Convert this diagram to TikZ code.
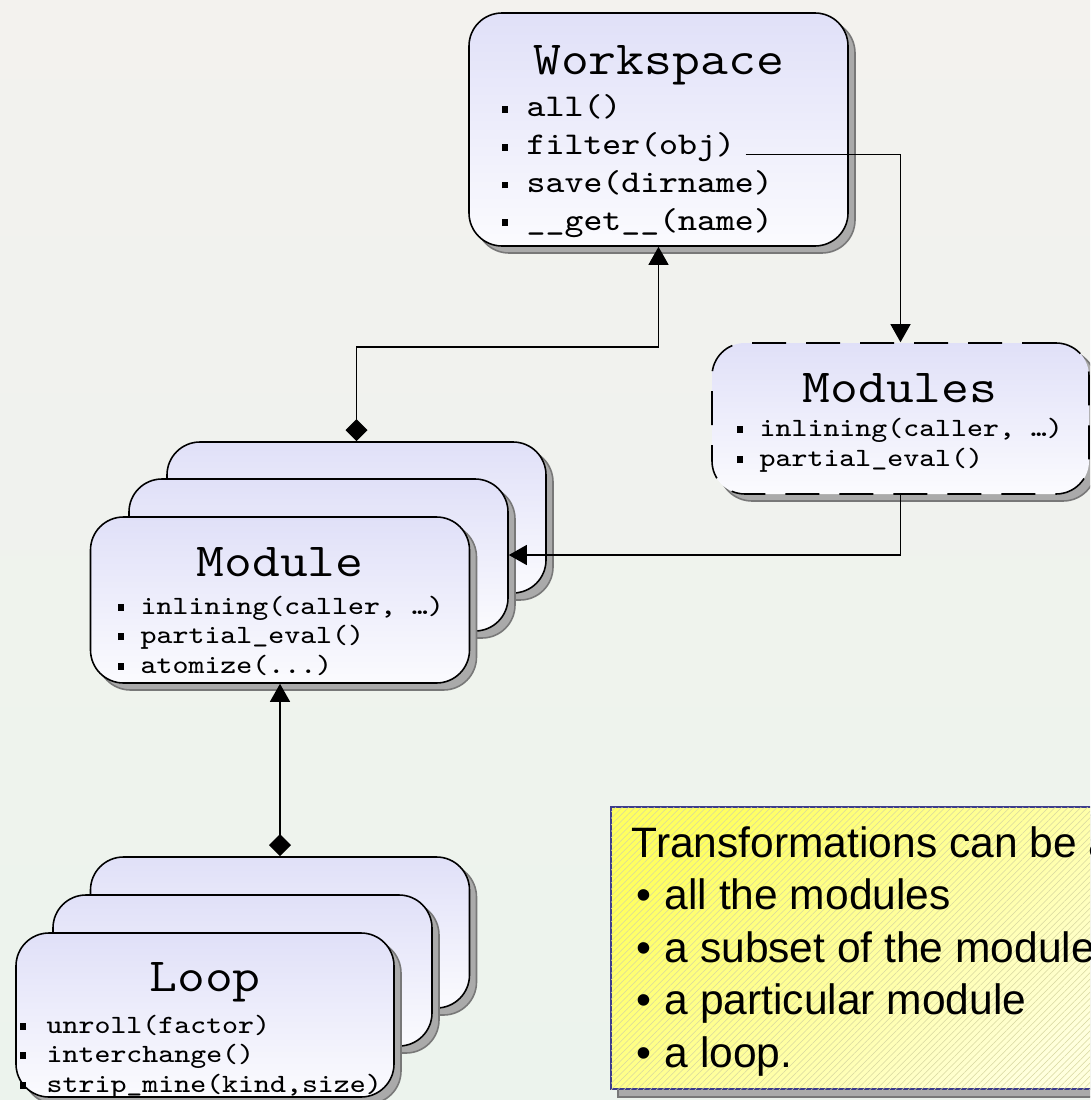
\documentclass[tikz,border=0pt]{standalone}
\usepackage{fontspec}
\setmainfont{Liberation Sans}
\setmonofont{Latin Modern Mono}[FakeStretch=1.14]
\usetikzlibrary{arrows.meta,shadows,patterns.meta}
\definecolor{boxtop}{RGB}{224,224,248}
\definecolor{boxbottom}{RGB}{251,251,254}
\definecolor{shadowfill}{RGB}{170,170,170}
\definecolor{shadowline}{RGB}{120,120,120}
\definecolor{notetop}{RGB}{255,255,95}
\definecolor{notebottom}{RGB}{255,255,222}
\definecolor{noteline}{RGB}{60,60,140}
\definecolor{hatch}{RGB}{215,215,160}
\definecolor{bgtop}{RGB}{243,242,238}
\definecolor{bgbottom}{RGB}{236,243,237}
\tikzstyle{umlbox} = [draw=black, line width=0.45pt, rounded corners=0.33cm, top color=boxtop, bottom color=boxbottom, minimum width=3.79cm, drop shadow={shadow xshift=0.07cm, shadow yshift=-0.07cm, opacity=1, fill=shadowfill, draw=shadowline, solid}]
\tikzstyle{notebox} = [draw=noteline, line width=0.4pt, top color=notetop, bottom color=notebottom, shading angle=40, drop shadow={shadow xshift=0.07cm, shadow yshift=-0.08cm, opacity=1, fill=shadowfill, draw=shadowline}, postaction={pattern={Lines[angle=45,distance=1.3pt,line width=0.15pt]}, pattern color=hatch}]
\tikzstyle{boxtitle} = [font=\ttfamily\fontsize{13.5}{16}\selectfont, anchor=base, inner sep=0pt]
\tikzstyle{boxitem} = [font=\ttfamily\fontsize{7.5}{9}\selectfont, anchor=base west, inner sep=0pt]
\tikzstyle{bigitem} = [boxitem, font=\ttfamily\fontsize{9}{11}\selectfont]
\tikzstyle{notetext} = [font=\fontsize{12.1}{14}\selectfont, anchor=base west, inner sep=0pt]
\tikzstyle{link} = [line width=0.35pt]
\tikzstyle{tri} = [-{Triangle[width=0.2cm,length=0.18cm]}]
\tikzstyle{dia} = [{Diamond[width=0.22cm,length=0.22cm]}-{Triangle[width=0.2cm,length=0.18cm]}]
\newcommand{\sqbul}[1]{\makebox[#1][l]{\rule[0.3ex]{1.9pt}{1.9pt}}}
\newcommand{\tdots}{...}

\begin{document}
\begin{tikzpicture}

	\useasboundingbox (0,0) rectangle (10.9,-11);
	\clip (0,0) rectangle (10.9,-11);
	\shade[top color=bgtop, bottom color=bgbottom] (0,0) rectangle (10.9,-11);

	% workspace
	\node[umlbox, minimum height=2.33cm] (ws) at (6.585,-1.295) {};
	\node[boxtitle] (wstitle) at (6.585,-0.75) {Workspace};
	\foreach \t [count=\i] in {all(), filter(obj), save(dirname), \_\_get\_\_(name)}
		\node[bigitem] (ws\i) at (5.01,{-1.17-0.377*(\i-1)}) {\sqbul{0.25cm}\t};

	% modules
	\node[umlbox, dash pattern=on 0.34cm off 0.2cm, minimum width=3.77cm, minimum height=1.51cm] (mods) at (9.005,-4.185) {};
	\node[boxtitle] (modstitle) at (9.0,-4.02) {Modules};
	\foreach \t [count=\i] in {{inlining(caller, …)}, partial\_eval()}
		\node[boxitem] (mods\i) at (7.36,{-4.36-0.305*(\i-1)}) {\sqbul{0.23cm}\t};

	% module stack
	\node[umlbox, minimum height=1.51cm] (mback) at (3.565,-5.175) {};
	\node[umlbox, minimum height=1.52cm] (mmid) at (3.185,-5.55) {};
	\node[umlbox, minimum height=1.66cm] (mfront) at (2.80,-6.00) {};
	\node[boxtitle] (mtitle) at (2.80,-5.76) {Module};
	\foreach \t [count=\i] in {{inlining(caller, …)}, partial\_eval(), atomize(\tdots)}
		\node[boxitem] (m\i) at (1.17,{-6.14-0.295*(\i-1)}) {\sqbul{0.23cm}\t};

	% loop stack
	\node[umlbox, minimum height=1.51cm] (lback) at (2.80,-9.325) {};
	\node[umlbox, minimum height=1.51cm] (lmid) at (2.425,-9.705) {};
	\node[umlbox, minimum width=3.78cm, minimum height=1.64cm] (lfront) at (2.05,-10.15) {};
	\node[boxtitle] (ltitle) at (2.05,-9.91) {Loop};
	\foreach \t [count=\i] in {unroll(factor), interchange(), {strip\_mine(kind,size)}}
		\node[boxitem] (l\i) at (0.19,{-10.33-0.295*(\i-1)}) {\sqbul{0.27cm}\t};

	% note
	\node[notebox, minimum width=5.3cm, minimum height=2.82cm] (note) at (8.76,-9.48) {};
	\node[notetext] (notehead) at (6.31,-8.57) {Transformations can be a};
	\foreach \t [count=\i] in {all the modules, a subset of the module, a particular module, a loop.}
		\node[notetext] (note\i) at (6.36,{-9.095-0.525*(\i-1)}) {\makebox[0.28cm][l]{•}\t};

	% connectors
	\coordinate (bend) at (6.585,-3.47);
	\draw[link, tri] ([xshift=0.1cm]ws2.base east) -| (mods.north);
	\draw[link, tri] (mods.south) |- (mmid.east);
	\draw[link, dia] (mback.north) |- (bend) -- (ws.south);
	\draw[link, dia] (lback.north) -- (mfront.south);

\end{tikzpicture}
\end{document}
